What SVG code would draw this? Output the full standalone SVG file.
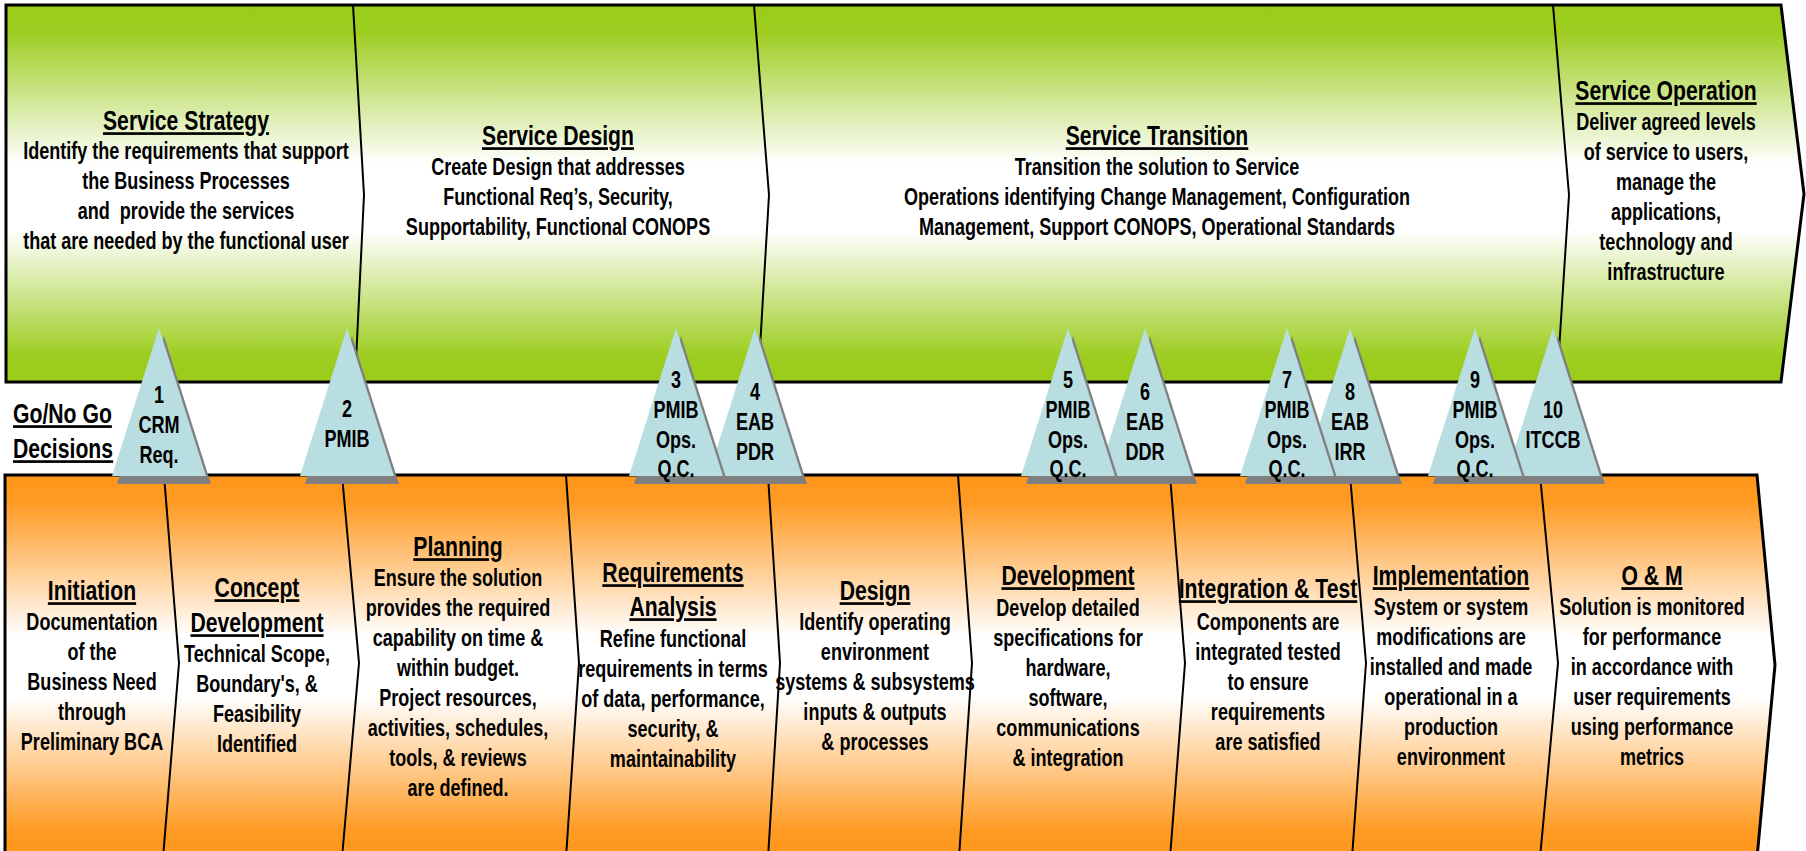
<svg xmlns="http://www.w3.org/2000/svg" xmlns:xlink="http://www.w3.org/1999/xlink" width="1806" height="851" viewBox="0 0 1806 851">
<defs>
<linearGradient id="gGreen" x1="0" y1="0" x2="0" y2="1">
<stop offset="0" stop-color="#9BCC1A"/><stop offset="0.07" stop-color="#9DCD20"/><stop offset="0.42" stop-color="#FFFFFF"/><stop offset="0.6" stop-color="#FFFFFF"/><stop offset="0.93" stop-color="#9DCD20"/><stop offset="1" stop-color="#9BCC1A"/>
</linearGradient>
<linearGradient id="gOrange" x1="0" y1="0" x2="0" y2="1">
<stop offset="0" stop-color="#FF961A"/><stop offset="0.07" stop-color="#FF9A22"/><stop offset="0.42" stop-color="#FFFFFF"/><stop offset="0.58" stop-color="#FFFFFF"/><stop offset="0.93" stop-color="#FF9A22"/><stop offset="1" stop-color="#FF961A"/>
</linearGradient>
<g id="tri">
<polygon class="sh" points="5,8 52,156 -42,156"/>
<polygon class="tr" points="0,0 47,148 -47,148"/>
</g>
<style>
.t{font-family:"Liberation Sans",Arial,Helvetica,sans-serif;font-weight:bold;font-size:23px;fill:#000;text-anchor:middle}
.h{font-size:27px;text-decoration:underline}
.l{text-anchor:start}
.tr{fill:#B8DEE2}
.sh{fill:#808080}
.band{stroke:#000;stroke-width:3}
.dv{fill:none;stroke:#000;stroke-width:2}
</style>
</defs>
<rect width="1806" height="851" fill="#FFFFFF"/>

<g id="band-service">
<polygon class="band" fill="url(#gGreen)" points="6,5 1781,5 1804,194 1781,382 6,382"/>
<polyline class="dv" points="353,5 364,195 355,382"/>
<polyline class="dv" points="754,5 769,195 758,382"/>
<polyline class="dv" points="1553,5 1569,195 1557,382"/>
</g>

<g id="band-lifecycle">
<polygon class="band" fill="url(#gOrange)" points="5,475 1757,475 1775,665 1757,858 5,858"/>
<polyline class="dv" points="164,475 179,663 163,858"/>
<polyline class="dv" points="342,475 359,663 342,858"/>
<polyline class="dv" points="566,475 579,663 566,858"/>
<polyline class="dv" points="768,475 780,663 768,858"/>
<polyline class="dv" points="958,475 972,663 959,858"/>
<polyline class="dv" points="1170,475 1185,663 1170,858"/>
<polyline class="dv" points="1350,475 1366,663 1352,858"/>
<polyline class="dv" points="1540,475 1558,663 1540,858"/>
</g>

<g id="connectors"></g>

<g id="service-strategy" transform="translate(186,0) scale(0.785,1)">
<text class="t h" y="130">Service Strategy</text>
<text class="t" y="159">Identify the requirements that support</text>
<text class="t" y="189">the Business Processes</text>
<text class="t" y="219">and&#160; provide the services</text>
<text class="t" y="249">that are needed by the functional user</text>
</g>
<g id="service-design" transform="translate(558,0) scale(0.785,1)">
<text class="t h" y="145">Service Design</text>
<text class="t" y="175">Create Design that addresses</text>
<text class="t" y="205">Functional Req’s, Security,</text>
<text class="t" y="235">Supportability, Functional CONOPS</text>
</g>
<g id="service-transition" transform="translate(1157,0) scale(0.785,1)">
<text class="t h" y="145">Service Transition</text>
<text class="t" y="175">Transition the solution to Service</text>
<text class="t" y="205">Operations identifying Change Management, Configuration</text>
<text class="t" y="235">Management, Support CONOPS, Operational Standards</text>
</g>
<g id="service-operation" transform="translate(1666,0) scale(0.785,1)">
<text class="t h" y="100">Service Operation</text>
<text class="t" y="130">Deliver agreed levels</text>
<text class="t" y="160">of service to users,</text>
<text class="t" y="190">manage the</text>
<text class="t" y="220">applications,</text>
<text class="t" y="250">technology and</text>
<text class="t" y="280">infrastructure</text>
</g>

<g id="go-no-go" transform="translate(13,0) scale(0.785,1)">
<text class="t h l" y="423">Go/No Go</text>
<text class="t h l" y="458">Decisions</text>
</g>

<g id="initiation" transform="translate(92,0) scale(0.785,1)">
<text class="t h" y="600">Initiation</text>
<text class="t" y="630">Documentation</text>
<text class="t" y="660">of the</text>
<text class="t" y="690">Business Need</text>
<text class="t" y="720">through</text>
<text class="t" y="750">Preliminary BCA</text>
</g>
<g id="concept-development" transform="translate(257,0) scale(0.785,1)">
<text class="t h" y="597">Concept</text>
<text class="t h" y="632">Development</text>
<text class="t" y="662">Technical Scope,</text>
<text class="t" y="692">Boundary's, &amp;</text>
<text class="t" y="722">Feasibility</text>
<text class="t" y="752">Identified</text>
</g>
<g id="planning" transform="translate(458,0) scale(0.785,1)">
<text class="t h" y="556">Planning</text>
<text class="t" y="586">Ensure the solution</text>
<text class="t" y="616">provides the required</text>
<text class="t" y="646">capability on time &amp;</text>
<text class="t" y="676">within budget.</text>
<text class="t" y="706">Project resources,</text>
<text class="t" y="736">activities, schedules,</text>
<text class="t" y="766">tools, &amp; reviews</text>
<text class="t" y="796">are defined.</text>
</g>
<g id="requirements-analysis" transform="translate(673,0) scale(0.785,1)">
<text class="t h" y="582">Requirements</text>
<text class="t h" y="616">Analysis</text>
<text class="t" y="647">Refine functional</text>
<text class="t" y="677">requirements in terms</text>
<text class="t" y="707">of data, performance,</text>
<text class="t" y="737">security, &amp;</text>
<text class="t" y="767">maintainability</text>
</g>
<g id="design" transform="translate(875,0) scale(0.785,1)">
<text class="t h" y="600">Design</text>
<text class="t" y="630">Identify operating</text>
<text class="t" y="660">environment</text>
<text class="t" y="690">systems &amp; subsystems</text>
<text class="t" y="720">inputs &amp; outputs</text>
<text class="t" y="750">&amp; processes</text>
</g>
<g id="development" transform="translate(1068,0) scale(0.785,1)">
<text class="t h" y="585">Development</text>
<text class="t" y="616">Develop detailed</text>
<text class="t" y="646">specifications for</text>
<text class="t" y="676">hardware,</text>
<text class="t" y="706">software,</text>
<text class="t" y="736">communications</text>
<text class="t" y="766">&amp; integration</text>
</g>
<g id="integration-test" transform="translate(1268,0) scale(0.785,1)">
<text class="t h" y="598">Integration &amp; Test</text>
<text class="t" y="630">Components are</text>
<text class="t" y="660">integrated tested</text>
<text class="t" y="690">to ensure</text>
<text class="t" y="720">requirements</text>
<text class="t" y="750">are satisfied</text>
</g>
<g id="implementation" transform="translate(1451,0) scale(0.785,1)">
<text class="t h" y="585">Implementation</text>
<text class="t" y="615">System or system</text>
<text class="t" y="645">modifications are</text>
<text class="t" y="675">installed and made</text>
<text class="t" y="705">operational in a</text>
<text class="t" y="735">production</text>
<text class="t" y="765">environment</text>
</g>
<g id="o-and-m" transform="translate(1652,0) scale(0.785,1)">
<text class="t h" y="585">O &amp; M</text>
<text class="t" y="615">Solution is monitored</text>
<text class="t" y="645">for performance</text>
<text class="t" y="675">in accordance with</text>
<text class="t" y="705">user requirements</text>
<text class="t" y="735">using performance</text>
<text class="t" y="765">metrics</text>
</g>

<g id="gate-1">
<use xlink:href="#tri" transform="translate(159,328)"/>
<g transform="translate(159,0) scale(0.785,1)"><text class="t" y="403">1</text><text class="t" y="433">CRM</text><text class="t" y="463">Req.</text></g>
</g>
<g id="gate-2">
<use xlink:href="#tri" transform="translate(347,328)"/>
<g transform="translate(347,0) scale(0.785,1)"><text class="t" y="417">2</text><text class="t" y="447">PMIB</text></g>
</g>
<g id="gate-4">
<use xlink:href="#tri" transform="translate(755,328)"/>
<g transform="translate(755,0) scale(0.785,1)"><text class="t" y="400">4</text><text class="t" y="430">EAB</text><text class="t" y="460">PDR</text></g>
</g>
<g id="gate-3">
<use xlink:href="#tri" transform="translate(676,328)"/>
<g transform="translate(676,0) scale(0.785,1)"><text class="t" y="388">3</text><text class="t" y="418">PMIB</text><text class="t" y="448">Ops.</text><text class="t" y="477">Q.C.</text></g>
</g>
<g id="gate-6">
<use xlink:href="#tri" transform="translate(1145,328)"/>
<g transform="translate(1145,0) scale(0.785,1)"><text class="t" y="400">6</text><text class="t" y="430">EAB</text><text class="t" y="460">DDR</text></g>
</g>
<g id="gate-5">
<use xlink:href="#tri" transform="translate(1068,328)"/>
<g transform="translate(1068,0) scale(0.785,1)"><text class="t" y="388">5</text><text class="t" y="418">PMIB</text><text class="t" y="448">Ops.</text><text class="t" y="477">Q.C.</text></g>
</g>
<g id="gate-8">
<use xlink:href="#tri" transform="translate(1350,328)"/>
<g transform="translate(1350,0) scale(0.785,1)"><text class="t" y="400">8</text><text class="t" y="430">EAB</text><text class="t" y="460">IRR</text></g>
</g>
<g id="gate-7">
<use xlink:href="#tri" transform="translate(1287,328)"/>
<g transform="translate(1287,0) scale(0.785,1)"><text class="t" y="388">7</text><text class="t" y="418">PMIB</text><text class="t" y="448">Ops.</text><text class="t" y="477">Q.C.</text></g>
</g>
<g id="gate-10">
<use xlink:href="#tri" transform="translate(1553,328)"/>
<g transform="translate(1553,0) scale(0.785,1)"><text class="t" y="418">10</text><text class="t" y="448">ITCCB</text></g>
</g>
<g id="gate-9">
<use xlink:href="#tri" transform="translate(1475,328)"/>
<g transform="translate(1475,0) scale(0.785,1)"><text class="t" y="388">9</text><text class="t" y="418">PMIB</text><text class="t" y="448">Ops.</text><text class="t" y="477">Q.C.</text></g>
</g>
</svg>
